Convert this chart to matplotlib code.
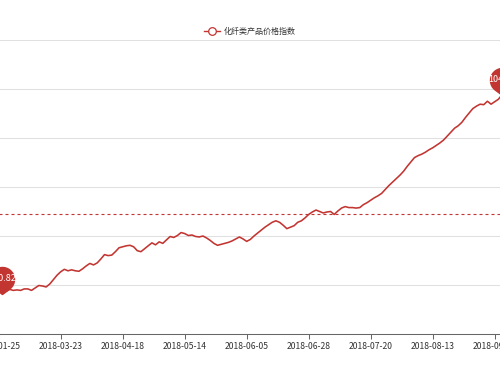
import numpy as np
import matplotlib
matplotlib.use('Agg')
import matplotlib.pyplot as plt
from matplotlib.path import Path
from matplotlib.lines import Line2D

plt.rcParams['font.family'] = ['Noto Sans CJK SC', 'DejaVu Sans']

series_name = '化纤类产品价格指数'

# index values, one per trading day
values = [
    101.03, 100.82, 100.87, 100.91, 100.89, 100.90, 100.89, 100.92, 100.92, 100.89,
    100.94, 100.99, 100.98, 100.96, 101.02, 101.11, 101.20, 101.27, 101.32, 101.29,
    101.31, 101.29, 101.28, 101.33, 101.39, 101.44, 101.41, 101.45, 101.53, 101.62,
    101.60, 101.61, 101.68, 101.76, 101.78, 101.80, 101.81, 101.78, 101.70, 101.68,
    101.74, 101.80, 101.86, 101.82, 101.88, 101.85, 101.92, 101.99, 101.97, 102.01,
    102.07, 102.05, 102.01, 102.02, 101.99, 101.98, 102.00, 101.96, 101.91, 101.85,
    101.81, 101.83, 101.85, 101.87, 101.90, 101.94, 101.98, 101.94, 101.89, 101.93,
    102.00, 102.06, 102.12, 102.18, 102.23, 102.28, 102.31, 102.28, 102.22, 102.15,
    102.18, 102.21, 102.28, 102.31, 102.37, 102.44, 102.49, 102.53, 102.50, 102.47,
    102.49, 102.50, 102.44, 102.51, 102.57, 102.60, 102.58, 102.58, 102.57, 102.58,
    102.64, 102.68, 102.73, 102.78, 102.82, 102.87, 102.95, 103.03, 103.10, 103.17,
    103.24, 103.32, 103.42, 103.51, 103.60, 103.64, 103.67, 103.71, 103.76, 103.80,
    103.85, 103.90, 103.96, 104.04, 104.12, 104.20, 104.25, 104.32, 104.42, 104.51,
    104.60, 104.65, 104.69, 104.68, 104.75, 104.69, 104.74, 104.79, 104.88,
]

# every 17th date gets a label
tick_labels = ['2018-01-25', '2018-03-23', '2018-04-18', '2018-05-14', '2018-06-05',
               '2018-06-28', '2018-07-20', '2018-08-13', '2018-09-05']
label_step = 17

avg_value = 102.44

red = '#c23531'

fig = plt.figure(figsize=(5, 3.75), dpi=100)
# the picture is a crop, so the axes run past the left and right edges
ax = fig.add_axes([-1.3 / 500, 41 / 375, 140 * 3.647 / 500, 294 / 375])

x = np.arange(len(values))
ax.plot(x, values, color=red, lw=1.15, zorder=3)

ax.axhline(avg_value, color=red, lw=0.8, dashes=(2.7, 2.7), zorder=2)

ax.set_xlim(0, 140)
ax.set_ylim(100, 106)
ax.set_yticks(range(100, 107))
ax.grid(axis='y', color='#e0e0e0', lw=0.75)
ax.set_axisbelow(True)

ax.set_xticks(range(0, len(tick_labels) * label_step, label_step))
ax.set_xticklabels(tick_labels)
ax.tick_params(axis='x', length=3.6, width=0.75, color='#666666',
               labelsize=6.2, labelcolor='#333333', pad=2)
ax.tick_params(axis='y', left=False, labelleft=False)
for s in ['top', 'right', 'left']:
    ax.spines[s].set_visible(False)
ax.spines['bottom'].set_color('#666666')
ax.spines['bottom'].set_linewidth(0.75)

# pin marker: bubble above, tip at the data point
r, c = 12.0, 15.0
a = np.arccos(r / c)
ang = np.linspace(-np.pi / 2 + a, 3 * np.pi / 2 - a, 60)
verts = [(0, 0)] + list(zip(r * np.cos(ang), c + r * np.sin(ang))) + [(0, 0)]
codes = [Path.MOVETO] + [Path.LINETO] * (len(verts) - 2) + [Path.CLOSEPOLY]
pin = Path(verts, codes)
pin_ms = (c + r) * 0.72 * 2

for idx in [int(np.argmin(values)), int(np.argmax(values))]:
    v = values[idx]
    ax.plot(idx, v, marker=pin, ms=pin_ms, color=red, mec=red, clip_on=False, zorder=5)
    ax.annotate(f'{v:.2f}', (idx, v), xytext=(0, c * 0.72), textcoords='offset points',
                ha='center', va='center', color='white', fontsize=6.5, zorder=6,
                annotation_clip=False)

# legend drawn by hand at the top centre
ly = 1 - 31 / 375
fig.add_artist(Line2D([204 / 500, 220 / 500], [ly, ly], transform=fig.transFigure,
                      color=red, lw=1))
fig.add_artist(Line2D([212 / 500], [ly], transform=fig.transFigure, marker='o',
                      ms=5.5, mfc='white', mec=red, mew=0.9))
fig.text(224 / 500, ly, series_name, ha='left', va='center', fontsize=5.8, color='#333333')

fig.savefig('out.png', dpi=100)
